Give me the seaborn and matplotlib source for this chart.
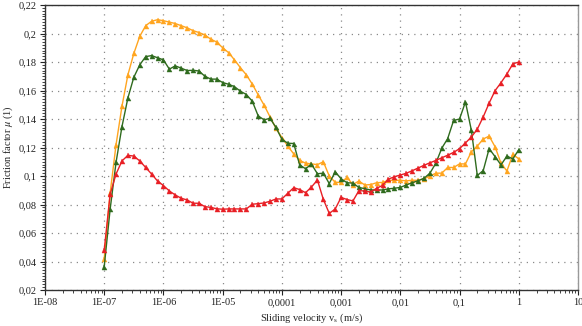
# Friction factor vs sliding velocity - three test series on a log x axis

import numpy as np
import pandas as pd
import seaborn as sns
import matplotlib
matplotlib.use("Agg")
import matplotlib.pyplot as plt
from matplotlib.ticker import FixedLocator, LogLocator, MultipleLocator, FuncFormatter, NullFormatter

# =============================================================================
# DATA
# =============================================================================

# exponent of the sliding velocity (m/s), 10 points per decade
log_velocity = [
    -7.0, -6.9, -6.8, -6.7, -6.6, -6.5, -6.4, -6.3, -6.2, -6.1,
    -6.0, -5.9, -5.8, -5.7, -5.6, -5.5, -5.4, -5.3, -5.2, -5.1,
    -5.0, -4.9, -4.8, -4.7, -4.6, -4.5, -4.4, -4.3, -4.2, -4.1,
    -4.0, -3.9, -3.8, -3.7, -3.6, -3.5, -3.4, -3.3, -3.2, -3.1,
    -3.0, -2.9, -2.8, -2.7, -2.6, -2.5, -2.4, -2.3, -2.2, -2.1,
    -2.0, -1.9, -1.8, -1.7, -1.6, -1.5, -1.4, -1.3, -1.2, -1.1,
    -1.0, -0.9, -0.8, -0.7, -0.6, -0.5, -0.4, -0.3, -0.2, -0.1,
    0.0,
]

mu_orange = [
    0.042, 0.088, 0.122, 0.149, 0.171, 0.186, 0.198, 0.2055, 0.2086, 0.2097,
    0.209, 0.208, 0.207, 0.2055, 0.204, 0.202, 0.2007, 0.199, 0.196, 0.194,
    0.190, 0.1866, 0.1815, 0.176, 0.171, 0.1645, 0.157, 0.1497, 0.1415, 0.1335,
    0.127, 0.121, 0.1155, 0.111, 0.109, 0.1085, 0.108, 0.110, 0.100, 0.0956,
    0.0955, 0.099, 0.094, 0.0965, 0.0937, 0.094, 0.0953, 0.0955, 0.097, 0.097,
    0.097, 0.0966, 0.097, 0.097, 0.098, 0.100, 0.102, 0.102, 0.106, 0.106,
    0.1085, 0.1085, 0.117, 0.121, 0.126, 0.128, 0.1205, 0.109, 0.1035, 0.1153,
    0.112,
]

mu_green = [
    0.0364, 0.0767, 0.1096, 0.1347, 0.1548, 0.1693, 0.178, 0.1838, 0.1845, 0.183,
    0.1815, 0.175, 0.1773, 0.1757, 0.174, 0.1742, 0.1737, 0.170, 0.168, 0.168,
    0.1656, 0.1644, 0.1627, 0.1595, 0.1572, 0.1525, 0.1422, 0.1394, 0.1405, 0.1341,
    0.1258, 0.123, 0.1228, 0.1078, 0.1051, 0.1083, 0.1016, 0.102, 0.0947, 0.103,
    0.098, 0.0953, 0.095, 0.092, 0.0911, 0.0902, 0.0902, 0.0902, 0.091, 0.0914,
    0.092, 0.0937, 0.0953, 0.0967, 0.0984, 0.102, 0.109, 0.1195, 0.1263, 0.139,
    0.140, 0.152, 0.132, 0.1004, 0.1038, 0.1192, 0.1136, 0.1078, 0.114, 0.112,
    0.1185,
]

mu_red = [
    0.048, 0.0872, 0.1014, 0.1106, 0.1145, 0.114, 0.1106, 0.106, 0.1014, 0.0965,
    0.0933, 0.0895, 0.0867, 0.0844, 0.0832, 0.0809, 0.0809, 0.0785, 0.078, 0.077,
    0.0767, 0.0769, 0.0769, 0.0769, 0.0769, 0.0802, 0.0806, 0.0811, 0.0823, 0.0839,
    0.0839, 0.0879, 0.0918, 0.0905, 0.0883, 0.0923, 0.0972, 0.0836, 0.0738, 0.0768,
    0.085, 0.0835, 0.0825, 0.0897, 0.0895, 0.0887, 0.0914, 0.0934, 0.0978, 0.0995,
    0.1007, 0.1019, 0.1037, 0.1056, 0.1075, 0.1093, 0.1109, 0.1128, 0.1146, 0.1166,
    0.1192, 0.1232, 0.1274, 0.1329, 0.1415, 0.1512, 0.1599, 0.1655, 0.1716, 0.1787,
    0.180,
]

x_ticks = [1e-8, 1e-7, 1e-6, 1e-5, 1e-4, 1e-3, 1e-2, 1e-1, 1, 10]
x_tick_labels = ["1E-08", "1E-07", "1E-06", "1E-05", "0,0001", "0,001", "0,01", "0,1", "1", "10"]
y_ticks = [0.02, 0.04, 0.06, 0.08, 0.10, 0.12, 0.14, 0.16, 0.18, 0.20, 0.22]

velocity = [10 ** e for e in log_velocity]

df = pd.DataFrame({
    "velocity": velocity * 3,
    "mu": mu_orange + mu_green + mu_red,
    "series": ["orange"] * len(velocity) + ["green"] * len(velocity) + ["red"] * len(velocity),
})

colors = {"orange": "#FFA51F", "green": "#2F6B1E", "red": "#E81F25"}

# =============================================================================
# STYLE
# =============================================================================

sns.set_style("ticks")
plt.rcParams["font.family"] = ["Liberation Serif", "DejaVu Serif"]
plt.rcParams["mathtext.fontset"] = "stix"
plt.rcParams["font.size"] = 7.5

# =============================================================================
# PLOT
# =============================================================================

fig = plt.figure(figsize=(5.82, 3.26), dpi=100)
ax = fig.add_axes([0.0773, 0.1104, 0.9158, 0.8742])

for name in ["orange", "green", "red"]:
    sns.lineplot(
        data=df[df["series"] == name],
        x="velocity",
        y="mu",
        color=colors[name],
        marker="^",
        markersize=3.6,
        markeredgewidth=0.3,
        markeredgecolor=colors[name],
        linewidth=1.0,
        ax=ax,
        legend=False,
        zorder=3,
    )

ax.set_xscale("log")
ax.set_xlim(1e-8, 10)
ax.set_ylim(0.02, 0.22)

ax.xaxis.set_major_locator(FixedLocator(x_ticks))
ax.xaxis.set_major_formatter(FuncFormatter(lambda v, p: x_tick_labels[x_ticks.index(v)] if v in x_ticks else ""))
ax.xaxis.set_minor_locator(LogLocator(base=10, subs=np.arange(2, 10), numticks=20))
ax.xaxis.set_minor_formatter(NullFormatter())

ax.yaxis.set_major_locator(FixedLocator(y_ticks))
ax.yaxis.set_major_formatter(FuncFormatter(lambda v, p: f"{v:.2f}".rstrip("0").replace(".", ",")))
ax.yaxis.set_minor_locator(MultipleLocator(0.002))

ax.tick_params(axis="both", which="major", direction="out", length=3.5, width=0.8,
               labelsize=7.5, colors="#222222", pad=2.5)
ax.tick_params(axis="both", which="minor", direction="out", length=2, width=0.6, color="#222222")

ax.grid(True, which="major", color="#8a8a8a", linestyle=(0, (1, 4)), linewidth=0.9)

for side in ["left", "bottom", "top", "right"]:
    ax.spines[side].set_visible(True)
    ax.spines[side].set_linewidth(1.0)
    ax.spines[side].set_color("#333333")
ax.spines["right"].set_color("#999999")

ax.set_xlabel(r"Sliding velocity v$_\mathregular{s}$ (m/s)", fontsize=7.5)
ax.set_ylabel(r"Friction factor $\mu$ (1)", fontsize=7.5)
ax.yaxis.set_label_coords(-0.056, 0.5)
ax.xaxis.set_label_coords(0.5, -0.074)

fig.savefig("out.png", dpi=100)
